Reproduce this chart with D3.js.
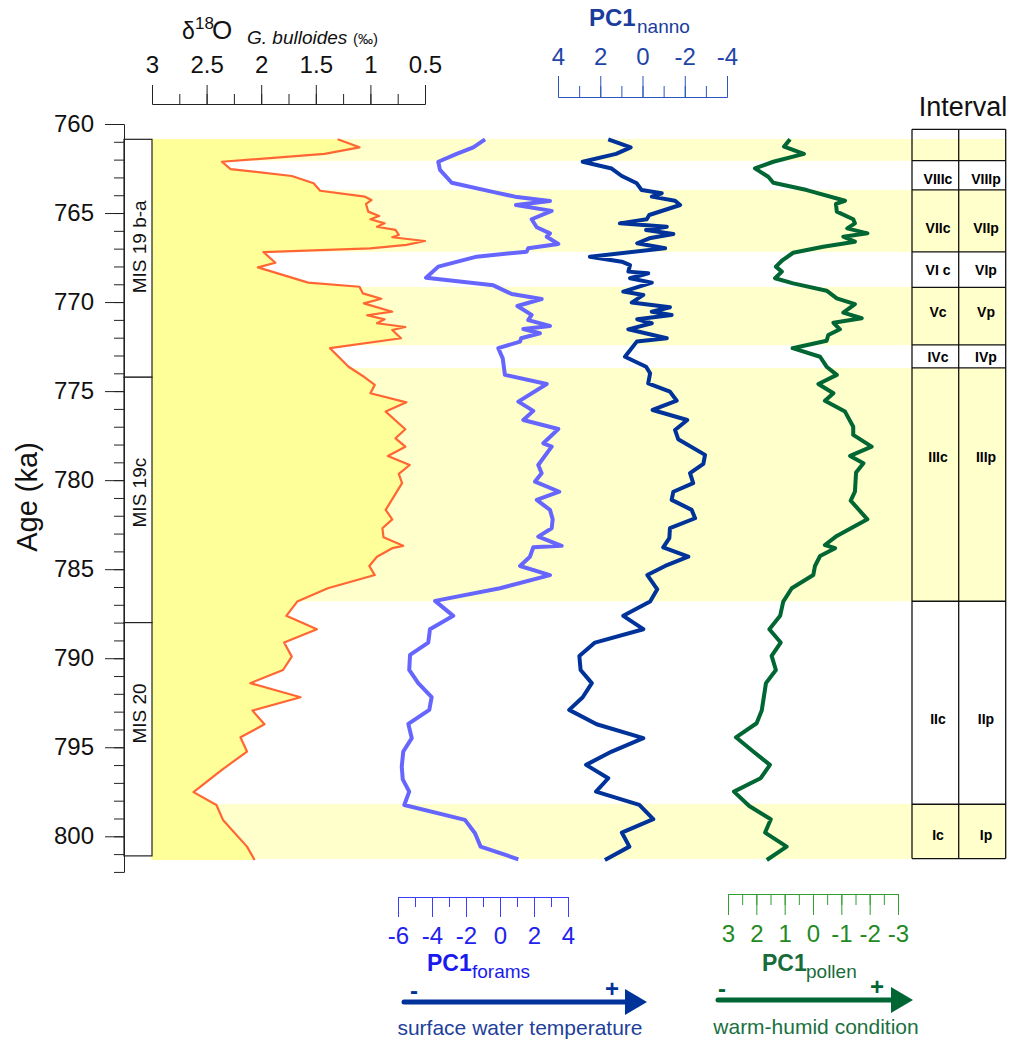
<!DOCTYPE html>
<html><head><meta charset="utf-8">
<script src="https://cdn.jsdelivr.net/npm/d3@7"></script>
<style>body{margin:0;background:#fff}svg{display:block}</style>
</head><body>
<div id="chart"></div>
<script>
// ---------------- DATA ----------------
const ageTicks = [760,765,770,775,780,785,790,795,800];
const d18Ticks = [3,2.5,2,1.5,1,0.5];
const nanTicks = [4,2,0,-2,-4];
const forTicks = [-6,-4,-2,0,2,4];
const polTicks = [3,2,1,0,-1,-2,-3];

// [age ka, value]
const d18O = [[760.86,1.30],[761.31,1.10],[761.68,1.42],[762.12,2.36],[762.53,2.28],[762.92,1.72],[763.33,1.52],[763.75,1.46],[764.08,1.05],[764.27,0.99],[764.49,1.04],[764.92,1.02],[765.17,0.92],[765.35,1.00],[765.58,0.87],[765.77,0.94],[765.95,0.77],[766.23,0.74],[766.36,0.80],[766.57,0.50],[766.79,0.67],[766.98,1.00],[767.19,1.98],[767.79,1.87],[768.05,2.03],[768.91,1.57],[769.14,1.10],[769.51,1.07],[769.81,0.90],[770.07,1.06],[770.54,0.80],[770.74,1.03],[770.97,0.87],[771.19,0.94],[771.40,0.68],[771.57,0.80],[772.03,0.72],[772.59,1.37],[773.63,1.20],[774.15,1.07],[774.65,0.96],[775.12,1.00],[775.63,0.67],[776.15,0.86],[777.14,0.68],[777.65,0.77],[778.12,0.68],[778.64,0.84],[779.15,0.64],[779.65,0.74],[780.17,0.71],[781.67,0.86],[782.20,0.80],[782.70,0.89],[783.21,0.88],[783.69,0.70],[783.82,0.80],[784.30,0.94],[784.82,1.01],[785.33,0.96],[786.07,1.39],[786.82,1.67],[787.62,1.77],[788.37,1.49],[789.12,1.79],[789.91,1.72],[790.66,1.80],[791.40,2.10],[792.19,1.64],[792.94,2.08],[793.71,1.97],[794.44,2.19],[795.24,2.13],[796.27,2.36],[797.52,2.62],[798.24,2.41],[799.08,2.35],[800.58,2.13],[801.33,2.06]];

const forams = [[760.86,-0.88],[761.31,-1.57],[761.68,-2.55],[762.12,-3.63],[762.58,-3.53],[763.30,-2.84],[763.80,-0.49],[764.08,0.88],[764.32,2.94],[764.55,0.94],[764.88,3.04],[765.35,1.86],[765.80,2.16],[766.14,2.94],[766.33,2.75],[766.74,3.43],[766.98,1.66],[767.17,1.57],[767.45,-1.37],[768.01,-3.63],[768.63,-4.35],[769.06,-0.39],[769.55,0.69],[769.83,2.45],[770.22,1.02],[770.72,1.86],[771.01,1.66],[771.34,2.94],[771.51,1.37],[771.75,2.35],[772.03,1.24],[772.22,1.18],[772.59,-0.10],[773.16,0.16],[774.09,0.29],[774.60,2.75],[775.59,1.08],[776.11,1.96],[776.62,1.37],[777.13,3.43],[777.93,2.55],[778.12,3.04],[779.15,2.25],[779.61,2.45],[780.08,2.06],[780.65,3.49],[781.11,2.16],[781.67,2.94],[782.20,3.10],[782.70,3.04],[783.17,2.25],[783.69,3.63],[783.77,1.96],[784.30,1.76],[784.82,1.18],[785.33,2.94],[786.07,0.0],[786.78,-3.82],[787.62,-2.75],[788.37,-4.12],[789.12,-4.22],[789.81,-5.29],[790.66,-5.34],[791.40,-4.81],[792.19,-4.02],[792.90,-4.16],[793.69,-5.39],[794.49,-5.19],[795.24,-5.69],[796.09,-5.78],[796.80,-5.72],[797.49,-5.34],[798.24,-5.63],[799.08,-2.06],[799.83,-1.47],[800.58,-1.14],[801.29,1.08]];

const nanno = [[760.86,1.62],[761.31,0.56],[761.68,1.25],[762.12,2.83],[762.50,1.46],[762.92,0.98],[763.33,0.27],[763.71,0.04],[763.89,-0.91],[764.08,-0.44],[764.31,-1.54],[764.55,-1.78],[765.11,-0.32],[765.35,-0.20],[765.58,1.07],[765.77,-1.15],[765.95,-0.17],[766.18,-1.46],[766.42,-0.32],[766.70,0.25],[766.98,-1.07],[767.45,2.49],[767.73,0.98],[767.92,0.59],[768.29,0.67],[768.38,-0.27],[768.66,0.59],[768.91,-0.44],[769.41,0.91],[769.60,-0.04],[770.03,0.51],[770.29,-1.30],[770.54,-0.44],[770.72,-1.38],[770.97,0.25],[771.19,-0.44],[771.53,0.67],[772.03,-1.15],[772.22,0.27],[773.07,0.83],[773.63,-0.17],[774.00,-0.36],[774.56,-0.27],[775.03,-1.30],[775.54,-1.62],[776.06,-0.48],[776.62,-2.12],[777.18,-1.54],[777.70,-1.69],[778.58,-2.96],[779.09,-2.88],[779.61,-2.25],[780.17,-2.40],[780.65,-1.46],[781.11,-1.38],[781.67,-2.33],[782.14,-2.49],[782.70,-1.30],[783.26,-1.27],[783.77,-0.98],[784.30,-2.17],[784.82,-1.07],[785.33,-0.23],[786.13,-0.70],[786.82,-0.36],[787.62,0.91],[788.37,-0.04],[789.12,2.25],[789.87,2.99],[790.66,2.93],[791.40,2.40],[792.19,2.83],[792.90,3.47],[793.71,2.17],[794.49,-0.04],[795.24,1.46],[795.99,2.67],[796.74,1.62],[797.49,2.20],[798.24,0.15],[799.04,-0.51],[799.79,0.98],[800.58,0.62],[801.33,1.78]];

const pollen = [[760.86,0.81],[761.27,1.02],[761.68,0.32],[762.12,1.40],[762.49,2.05],[762.96,1.58],[763.30,1.40],[763.71,0.22],[764.31,-1.13],[764.49,-0.81],[764.92,-0.84],[765.35,-1.42],[765.58,-1.48],[765.86,-1.21],[766.14,-1.92],[766.33,-1.07],[766.61,-1.48],[766.89,-0.36],[767.23,0.70],[767.64,1.07],[768.01,1.31],[768.29,1.10],[768.66,1.34],[768.95,0.70],[769.36,-0.48],[769.79,-0.84],[770.11,-1.48],[770.59,-1.07],[770.91,-1.72],[771.16,-0.72],[771.53,-0.95],[771.85,-0.54],[772.17,-0.48],[772.59,0.72],[773.07,-0.25],[773.63,-0.48],[774.09,-0.84],[774.60,-0.19],[775.12,-0.72],[775.54,-0.42],[776.15,-1.13],[777.00,-1.42],[777.46,-1.42],[778.12,-2.07],[778.64,-1.31],[779.05,-1.78],[779.57,-1.52],[780.65,-1.48],[781.15,-1.33],[782.20,-1.92],[783.13,-0.84],[783.64,-0.42],[783.82,-0.78],[784.26,-0.25],[784.82,-0.07],[785.33,-0.01],[786.07,0.75],[786.82,1.05],[787.62,1.16],[788.37,1.54],[789.12,1.14],[789.87,1.46],[790.66,1.31],[791.40,1.66],[792.94,1.81],[793.65,1.99],[794.44,2.72],[795.24,2.11],[795.99,1.52],[796.74,1.85],[797.49,2.79],[798.30,2.25],[799.04,1.49],[799.79,1.69],[800.58,0.93],[801.33,1.63]];

// warm bands (ka)
const bandStart = [760.84, 763.70, 769.15, 773.70, 798.18];
const bandEnd   = [762.07, 767.18, 772.42, 786.80, 801.27];

// interval table
const intervalBounds = [760.3, 762.06, 763.70, 767.18, 769.17, 772.40, 773.70, 786.80, 798.20, 801.25];
const intervalC = ["", "VIIIc", "VIIc", "VI c", "Vc", "IVc", "IIIc", "IIc", "Ic"];
const intervalP = ["", "VIIIp", "VIIp", "VIp", "Vp", "IVp", "IIIp", "IIp", "Ip"];
const intervalLabelAge = [null, 763.09, 765.82, 768.2, 770.54, 773.1, 778.7, 793.4, 799.9];

// MIS stages
const misBounds = [760.86, 774.22, 788.0, 801.1];
const misNames = ["MIS 19 b-a", "MIS 19c", "MIS 20"];
const misLabelAge = [766.9, 780.7, 793.1];

// ---------------- CHART ----------------
const W = 1012, H = 1044;
const FONT = "'Liberation Sans', Arial, Helvetica, sans-serif";
const svg = d3.select("#chart").append("svg").attr("width", W).attr("height", H)
  .style("font-family", FONT);

const y = d3.scaleLinear().domain([760, 800]).range([124, 836.3]);
const xD18 = d3.scaleLinear().domain([3, 0.5]).range([152, 425]);
const xFor = d3.scaleLinear().domain([-6, 4]).range([398, 568]);
const xNan = d3.scaleLinear().domain([4, -4]).range([558, 727]);
const xPol = d3.scaleLinear().domain([3, -3]).range([728, 898]);

const BAND = "#ffffcc", FILL = "#ffff99";
const bandL = 150, bandR = 1005.5;

// bands
svg.append("g").selectAll("rect").data(bandStart).join("rect")
  .attr("x", bandL).attr("width", bandR - bandL)
  .attr("y", (d) => y(d)).attr("height", (d, i) => y(bandEnd[i]) - y(d))
  .attr("fill", BAND);

// strong yellow fill left of d18O
const area = d3.area().y(d => y(d[0])).x0(xD18(3)).x1(d => xD18(d[1]));
svg.append("path").datum(d18O).attr("d", area).attr("fill", FILL);

// MIS box
const mis = svg.append("g");
const misX0 = 124, misX1 = 152;
misNames.forEach((n, i) => {
  mis.append("rect").attr("x", misX0).attr("y", y(misBounds[i]))
    .attr("width", misX1 - misX0).attr("height", y(misBounds[i+1]) - y(misBounds[i]))
    .attr("fill", "#fff").attr("stroke", "#222").attr("stroke-width", 1.2);
  mis.append("text").attr("transform", `translate(146,${y(misLabelAge[i])}) rotate(-90)`)
    .attr("text-anchor", "middle").attr("font-size", 19).attr("fill", "#111").text(n);
});

// lines
const mk = (xs) => d3.line().x(d => xs(d[1])).y(d => y(d[0]));
svg.append("path").datum(d18O).attr("d", mk(xD18)).attr("fill", "none")
  .attr("stroke", "#ff6633").attr("stroke-width", 2.2).attr("stroke-linejoin", "round");
svg.append("path").datum(forams).attr("d", mk(xFor)).attr("fill", "none")
  .attr("stroke", "#6666ff").attr("stroke-width", 4).attr("stroke-linejoin", "round");
svg.append("path").datum(nanno).attr("d", mk(xNan)).attr("fill", "none")
  .attr("stroke", "#003399").attr("stroke-width", 4).attr("stroke-linejoin", "round");
svg.append("path").datum(pollen).attr("d", mk(xPol)).attr("fill", "none")
  .attr("stroke", "#006633").attr("stroke-width", 4).attr("stroke-linejoin", "round");

// interval table
const tab = svg.append("g");
const tx0 = 912, tx1 = 958.7, tx2 = 1005.7;
[tx0, tx1, tx2].forEach(x => tab.append("line").attr("x1", x).attr("x2", x)
  .attr("y1", y(intervalBounds[0])).attr("y2", y(intervalBounds[intervalBounds.length-1]))
  .attr("stroke", "#111").attr("stroke-width", 1.3));
intervalBounds.forEach(b => tab.append("line").attr("x1", tx0).attr("x2", tx2)
  .attr("y1", y(b)).attr("y2", y(b)).attr("stroke", "#111").attr("stroke-width", 1.3));
intervalC.forEach((t, i) => {
  if (!t) return;
  tab.append("text").attr("x", 938).attr("y", y(intervalLabelAge[i])).attr("dy", "0.36em")
    .attr("text-anchor", "middle").attr("font-size", 14).attr("font-weight", "bold").text(t);
  tab.append("text").attr("x", 986).attr("y", y(intervalLabelAge[i])).attr("dy", "0.36em")
    .attr("text-anchor", "middle").attr("font-size", 14).attr("font-weight", "bold").text(intervalP[i]);
});
svg.append("text").attr("x", 963).attr("y", 116).attr("text-anchor", "middle")
  .attr("font-size", 27).attr("fill", "#111").text("Interval");

// axes helper
function styleAxis(g, lineColor, textColor, fs) {
  g.attr("font-family", FONT).attr("font-size", fs);
  g.selectAll("path, line").attr("stroke", lineColor).attr("stroke-width", 1);
  g.selectAll("text").attr("fill", textColor);
}
const fmt = d => String(d);

// age axis
const yAx = d3.scaleLinear().domain([760, 802]).range([y(760), y(802)]);
styleAxis(svg.append("g").attr("transform", "translate(124,0)")
  .call(d3.axisLeft(yAx).tickValues(d3.range(760, 803, 1)).tickSize(10).tickFormat("").tickSizeOuter(0)), "#222", "#222", 10);
styleAxis(svg.append("g").attr("transform", "translate(124,0)")
  .call(d3.axisLeft(yAx).tickValues(ageTicks).tickSize(19).tickPadding(11).tickFormat(fmt).tickSizeOuter(0)), "#222", "#111", 24);
svg.append("text").attr("transform", `translate(37,497) rotate(-90)`)
  .attr("text-anchor", "middle").attr("font-size", 29).attr("fill", "#111").text("Age (ka)");

// d18O top axis
styleAxis(svg.append("g").attr("transform", "translate(0,104)")
  .call(d3.axisTop(xD18).tickValues(d3.range(3, 0.49, -0.25)).tickSize(10).tickFormat("").tickSizeOuter(0)), "#222", "#222", 10);
styleAxis(svg.append("g").attr("transform", "translate(0,104)")
  .call(d3.axisTop(xD18).tickValues(d18Ticks).tickSize(19).tickPadding(12).tickFormat(fmt).tickSizeOuter(0)), "#222", "#111", 24);
const t1 = svg.append("text").attr("fill", "#111");
t1.append("tspan").attr("x", 182).attr("y", 39).attr("font-size", 23).text("δ");
t1.append("tspan").attr("x", 195).attr("y", 29).attr("font-size", 17).text("18");
t1.append("tspan").attr("x", 212).attr("y", 39).attr("font-size", 26).text("O");
t1.append("tspan").attr("x", 247).attr("y", 44).attr("font-size", 19).attr("font-style", "italic").text("G. bulloides");
t1.append("tspan").attr("x", 353).attr("y", 44).attr("font-size", 15).text("(‰)");

// nanno top axis
const NANL = "#2b55c0", NANT = "#1f45a8";
styleAxis(svg.append("g").attr("transform", "translate(0,97)")
  .call(d3.axisTop(xNan).tickValues(d3.range(4, -4.1, -1)).tickSize(11).tickFormat("").tickSizeOuter(0)), NANL, NANT, 10);
styleAxis(svg.append("g").attr("transform", "translate(0,97)")
  .call(d3.axisTop(xNan).tickValues(nanTicks).tickSize(21).tickPadding(11).tickFormat(fmt).tickSizeOuter(0)), NANL, NANT, 24);
const t2 = svg.append("text").attr("fill", "#1a3c9c").attr("font-weight", "bold");
t2.append("tspan").attr("x", 589).attr("y", 26).attr("font-size", 24).text("PC1");
t2.append("tspan").attr("x", 637).attr("y", 33).attr("font-size", 19).attr("font-weight", "normal").text("nanno");

// forams bottom axis
const FORL = "#3c3cff", FORT = "#2222ee";
styleAxis(svg.append("g").attr("transform", "translate(0,897)")
  .call(d3.axisBottom(xFor).tickValues(d3.range(-6, 4.1, 1)).tickSize(10).tickFormat("").tickSizeOuter(0)), FORL, FORT, 10);
styleAxis(svg.append("g").attr("transform", "translate(0,897)")
  .call(d3.axisBottom(xFor).tickValues(forTicks).tickSize(20).tickPadding(10).tickFormat(fmt).tickSizeOuter(0)), FORL, FORT, 24);
const t3 = svg.append("text").attr("fill", "#1a1aee").attr("font-weight", "bold");
t3.append("tspan").attr("x", 427).attr("y", 971).attr("font-size", 23).text("PC1");
t3.append("tspan").attr("x", 472).attr("y", 978).attr("font-size", 19).attr("font-weight", "normal").text("forams");

// pollen bottom axis
const POLL = "#2f9f2f", POLT = "#238a23";
styleAxis(svg.append("g").attr("transform", "translate(0,894)")
  .call(d3.axisBottom(xPol).tickValues(d3.range(3, -3.1, -0.5)).tickSize(11).tickFormat("").tickSizeOuter(0)), POLL, POLT, 10);
styleAxis(svg.append("g").attr("transform", "translate(0,894)")
  .call(d3.axisBottom(xPol).tickValues(polTicks).tickSize(21).tickPadding(10).tickFormat(fmt).tickSizeOuter(0)), POLL, POLT, 24);
const t4 = svg.append("text").attr("fill", "#1a6b3a").attr("font-weight", "bold");
t4.append("tspan").attr("x", 762).attr("y", 971).attr("font-size", 23).text("PC1");
t4.append("tspan").attr("x", 806).attr("y", 978).attr("font-size", 19).attr("font-weight", "normal").text("pollen");

// arrows
function arrow(x0, x1, yy, color) {
  svg.append("line").attr("x1", x0).attr("x2", x1 - 18).attr("y1", yy).attr("y2", yy)
    .attr("stroke", color).attr("stroke-width", 5).attr("stroke-linecap", "round");
  svg.append("path").attr("d", `M${x1-22},${yy-13}L${x1},${yy}L${x1-22},${yy+13}Z`).attr("fill", color);
}
arrow(404, 647, 1002, "#003399");
arrow(718, 913, 1000, "#006633");
svg.append("text").attr("x", 414).attr("y", 999).attr("text-anchor", "middle").attr("font-size", 24).attr("font-weight", "bold").attr("fill", "#003399").text("-");
svg.append("text").attr("x", 612).attr("y", 997).attr("text-anchor", "middle").attr("font-size", 24).attr("font-weight", "bold").attr("fill", "#003399").text("+");
svg.append("text").attr("x", 722).attr("y", 997).attr("text-anchor", "middle").attr("font-size", 24).attr("font-weight", "bold").attr("fill", "#006633").text("-");
svg.append("text").attr("x", 877).attr("y", 995).attr("text-anchor", "middle").attr("font-size", 24).attr("font-weight", "bold").attr("fill", "#006633").text("+");
svg.append("text").attr("x", 520).attr("y", 1035).attr("text-anchor", "middle").attr("font-size", 21).attr("fill", "#1e3f9a").text("surface water temperature");
svg.append("text").attr("x", 816).attr("y", 1034).attr("text-anchor", "middle").attr("font-size", 21).attr("fill", "#1a7040").text("warm-humid condition");
</script>
</body></html>
